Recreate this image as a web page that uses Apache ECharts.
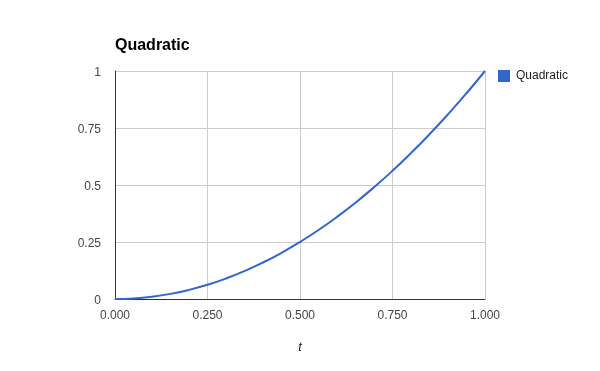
<!DOCTYPE html>
<html>
<head>
<meta charset="utf-8">
<script src="https://cdn.jsdelivr.net/npm/echarts@6/dist/echarts.min.js"></script>
<style>html,body{margin:0;padding:0;background:#fff;}#c{width:600px;height:371px;}</style>
</head>
<body>
<div id="c"></div>
<script>
var titleText = 'Quadratic';
var seriesName = 'Quadratic';
var xAxisName = 't';
var tValues = [0, 0.05, 0.1, 0.15, 0.2, 0.25, 0.3, 0.35, 0.4, 0.45, 0.5, 0.55, 0.6, 0.65, 0.7, 0.75, 0.8, 0.85, 0.9, 0.95, 1];
var yValues = [0, 0.0025, 0.01, 0.0225, 0.04, 0.0625, 0.09, 0.1225, 0.16, 0.2025, 0.25, 0.3025, 0.36, 0.4225, 0.49, 0.5625, 0.64, 0.7225, 0.81, 0.9025, 1];
var yTickLabels = {0: '0', 0.25: '0.25', 0.5: '0.5', 0.75: '0.75', 1: '1'};

var chart = echarts.init(document.getElementById('c'), null, {renderer: 'canvas'});
var font = 'Arial, "Liberation Sans", sans-serif';
chart.setOption({
  animation: false,
  title: {text: titleText, left: 110, top: 33, textStyle: {fontFamily: font, fontSize: 16, fontWeight: 'bold', color: '#000'}},
  legend: {
    data: [{name: seriesName, icon: 'rect'}], orient: 'vertical', left: 493, top: 65,
    itemWidth: 12, itemHeight: 12, itemGap: 4,
    textStyle: {fontFamily: font, fontSize: 12, color: '#222', padding: [0, 0, 0, 1]}
  },
  grid: {left: 115, right: 115, top: 71, bottom: 72, containLabel: false},
  xAxis: {
    type: 'value', min: 0, max: 1, interval: 0.25,
    name: xAxisName, nameLocation: 'middle', nameGap: 42,
    nameTextStyle: {fontFamily: font, fontSize: 13, fontStyle: 'italic', color: '#222'},
    axisLine: {show: true, onZero: false, lineStyle: {color: '#333', width: 1}},
    axisTick: {show: false},
    axisLabel: {fontFamily: font, fontSize: 12, color: '#444', margin: 9, padding: [2, 0, 0, 0], formatter: function (v) { return v.toFixed(3); }},
    splitLine: {show: true, lineStyle: {color: '#ccc', width: 1}}
  },
  yAxis: {
    type: 'value', min: 0, max: 1, interval: 0.25,
    axisLine: {show: true, lineStyle: {color: '#333', width: 1}},
    axisTick: {show: false},
    axisLabel: {
      fontFamily: font, fontSize: 12, color: '#444', margin: 14,
      formatter: function (v) { return '{a|' + (yTickLabels[v] !== undefined ? yTickLabels[v] : String(v)) + '}'; },
      rich: {a: {fontFamily: font, fontSize: 12, color: '#444', padding: [4, 0, 0, 0]}}
    },
    splitLine: {show: true, lineStyle: {color: '#ccc', width: 1}}
  },
  series: [{
    name: seriesName, type: 'line', smooth: true, showSymbol: false, symbol: 'none',
    color: '#3366cc', lineStyle: {color: '#3366cc', width: 2},
    data: tValues.map(function (t, i) { return [t, yValues[i]]; })
  }]
});
</script>
</body>
</html>
